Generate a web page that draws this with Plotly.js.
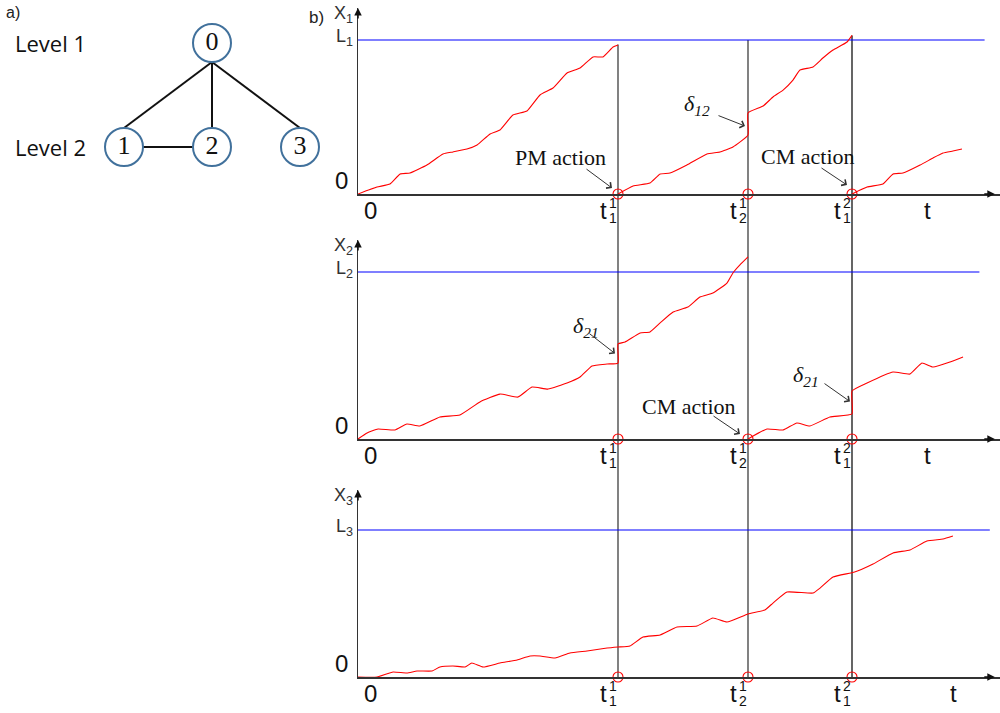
<!DOCTYPE html>
<html>
<head>
<meta charset="utf-8">
<script src="https://cdn.plot.ly/plotly-3.0.1.min.js"></script>
<style>
  html, body { margin: 0; padding: 0; background: #fff; }
  #chart { width: 1000px; height: 713px; }
</style>
</head>
<body>
<div id="chart"></div>
<script>
// ---- data ----

// a) two-level structure
var nodeLabels = ['0', '1', '2', '3']
var nodeLevel = [1, 2, 2, 2]
var nodeColumn = [2, 1, 2, 3]
var edges = [[0, 1], [0, 2], [0, 3], [1, 2]]
var levelNames = ['Level 1', 'Level 2']

// b) event times on the t axis: t_1^1, t_2^1, t_1^2
var eventTimes = [10, 15, 19]
var eventSub = ['1', '2', '1']
var eventSup = ['1', '1', '2']
var limitLevel = 1                  // L1, L2, L3 (each panel scaled to its own L)
var limitEnd = [24.1, 23.9, 24.3]   // where the blue limit lines stop
var eventLineTop = [0.97, 1.0, 1.03] // top of the black event lines, in X1 units
var tLabelAt = [21.9, 21.9, 22.9]

// X1: resets at t_1^1 (PM action) and t_1^2 (CM action), jump delta12 at t_2^1
var x1Time = [0, 0.73, 1.23, 1.62, 2.0, 2.65, 3.27, 3.65, 4.19, 4.58, 5.08, 5.46, 5.96, 6.5, 7.0, 7.5, 8.04, 8.54, 9.04, 9.42, 9.81, 10,
    null,
    10, 10.58, 11.23, 11.62, 12.0, 12.65, 13.42, 13.92, 14.42, 15, 15, 15.58, 15.96, 16.35, 16.73, 17.0, 17.5, 17.88, 18.27, 18.81, 19,
    null,
    19, 19.58, 20.19, 20.58, 20.96, 21.62, 22.12, 22.5, 22.88, 23.23]
var x1Value = [0, 0.045, 0.065, 0.13, 0.136, 0.188, 0.26, 0.273, 0.292, 0.318, 0.39, 0.416, 0.513, 0.539, 0.643, 0.688, 0.786, 0.818, 0.89, 0.89, 0.955, 0.968,
    null,
    0, 0.052, 0.071, 0.13, 0.136, 0.188, 0.26, 0.273, 0.305, 0.383, 0.526, 0.571, 0.63, 0.675, 0.74, 0.805, 0.825, 0.883, 0.935, 0.987, 1.03,
    null,
    0, 0.045, 0.065, 0.13, 0.136, 0.188, 0.234, 0.266, 0.279, 0.292]

// X2: jump delta21 at t_1^1, reset at t_2^1 (CM action), jump delta21 at t_1^2
var x2Time = [0, 0.35, 0.77, 1.42, 1.88, 2.38, 3.15, 3.92, 4.69, 5.46, 6.15, 6.69, 7.31, 8.04, 8.54, 9.0, 9.58, 10, 10, 10.27, 10.85, 11.23, 11.62, 12.12, 12.69, 13.15, 13.65, 14.19, 14.42, 14.69, 15,
    null,
    15, 15.73, 16.35, 16.88, 17.38, 18.15, 19, 19, 19.58, 20.58, 21.23, 21.69, 22.12, 22.77, 23.27]
var x2Value = [0, 0.036, 0.06, 0.054, 0.09, 0.078, 0.132, 0.144, 0.222, 0.269, 0.251, 0.311, 0.299, 0.335, 0.371, 0.437, 0.449, 0.455, 0.569, 0.581, 0.635, 0.641, 0.695, 0.76, 0.79, 0.85, 0.874, 0.934, 0.994, 1.042, 1.09,
    null,
    0, 0.06, 0.054, 0.096, 0.078, 0.132, 0.15, 0.287, 0.335, 0.401, 0.389, 0.455, 0.431, 0.461, 0.491]

// X3: no action
var x3Time = [0, 0.73, 1.35, 1.88, 2.27, 2.85, 3.15, 3.65, 4.12, 4.38, 4.81, 5.46, 6.12, 6.62, 7.0, 7.58, 8.15, 8.81, 9.58, 10, 10.46, 10.96, 11.62, 12.27, 13.04, 13.65, 14.19, 15, 15.65, 15.96, 16.5, 17.5, 17.77, 18.27, 19.1, 19.81, 20.58, 21.23, 21.88, 22.5, 22.88]
var x3Value = [0, 0, 0.034, 0.027, 0.041, 0.041, 0.068, 0.075, 0.068, 0.095, 0.068, 0.095, 0.116, 0.143, 0.143, 0.129, 0.163, 0.177, 0.197, 0.204, 0.211, 0.272, 0.286, 0.34, 0.347, 0.401, 0.374, 0.429, 0.456, 0.503, 0.578, 0.571, 0.605, 0.68, 0.714, 0.769, 0.844, 0.864, 0.925, 0.939, 0.959]


// ---- layout geometry (pixels of the 1000x713 picture) ----
var W = 1000, H = 713
var axisLeftPx = 358
var pxPerT = 26
var panelBasePx = [194, 439, 677]
var panelTopPx = [8, 240, 490]
var panelLimitPx = [40, 272, 530]

var sans = 'Liberation Sans, Arial, sans-serif'
var serif = 'Liberation Serif, Times New Roman, serif'
var axisColor = '#333'

function paperY(py) { return 1 - py / H }

var xRange = [0, (W - axisLeftPx) / pxPerT]
var series = [[x1Time, x1Value], [x2Time, x2Value], [x3Time, x3Value]]

var data = []
var layout = {
    width: W, height: H,
    margin: {l: 0, r: 0, t: 0, b: 0},
    paper_bgcolor: '#fff',
    plot_bgcolor: 'rgba(0,0,0,0)',
    showlegend: false,
    hovermode: false,
    annotations: [],
    shapes: []
}
var yDomains = [], yRanges = []

function jumpMid(times, values, t) {
    // middle of a vertical jump at time t
    for (let i = 1; i < times.length; i++) {
        if (times[i] === t && times[i - 1] === t) return (values[i] + values[i - 1]) / 2
    }
    return 0
}

for (let i = 0; i < 3; i++) {
    var s = i == 0 ? '' : String(i + 1)
    var xa = 'x' + s, ya = 'y' + s
    var yDomain = [paperY(panelBasePx[i]), paperY(panelTopPx[i])]
    var yRange = [0, limitLevel * (panelBasePx[i] - panelTopPx[i]) / (panelBasePx[i] - panelLimitPx[i])]
    yDomains.push(yDomain)
    yRanges.push(yRange)

    layout['xaxis' + s] = {
        domain: [axisLeftPx / W, 1], range: xRange, anchor: ya,
        showgrid: false, zeroline: false, showticklabels: false, ticks: '',
        showline: true, linecolor: axisColor, linewidth: 1.5, fixedrange: true
    }
    if (i > 0) layout['xaxis' + s].matches = 'x'
    layout['yaxis' + s] = {
        domain: yDomain, range: yRange, anchor: xa,
        showgrid: false, zeroline: false, showticklabels: false, ticks: '',
        showline: true, linecolor: axisColor, linewidth: 1.5, fixedrange: true
    }

    // limit line L_i
    data.push({
        x: [0, limitEnd[i]], y: [limitLevel, limitLevel], xaxis: xa, yaxis: ya,
        mode: 'lines', line: {color: '#0000ff', width: 1.2}
    })
    // state X_i(t)
    data.push({
        x: series[i][0], y: series[i][1], xaxis: xa, yaxis: ya,
        mode: 'lines', connectgaps: false,
        line: {color: '#ff0000', width: 1.1, shape: 'spline', smoothing: 0.4}
    })
    // event points on the t axis
    data.push({
        x: eventTimes, y: eventTimes.map(() => 0), xaxis: xa, yaxis: ya,
        mode: 'markers', cliponaxis: false,
        marker: {symbol: 'circle-open', size: 10, color: '#ff0000', line: {width: 1.1}}
    })

    // axis arrow heads
    layout.annotations.push({
        x: 0, y: yRange[1], xref: xa, yref: ya, text: '', showarrow: true,
        ax: 0, ay: 12, arrowhead: 2, arrowsize: 1, arrowwidth: 1.5, arrowcolor: '#111'
    })
    layout.annotations.push({
        x: xRange[1] - 0.2, y: 0, xref: xa, yref: ya, text: '', showarrow: true,
        ax: -12, ay: 0, arrowhead: 2, arrowsize: 1, arrowwidth: 1.5, arrowcolor: '#111'
    })

    // axis labels
    var n = String(i + 1)
    layout.annotations.push({
        x: 0, y: yRange[1], xref: xa, yref: ya, text: 'X<sub>' + n + '</sub>',
        showarrow: false, xanchor: 'right', yanchor: 'top', xshift: -3, yshift: 7,
        font: {family: sans, size: 18, color: axisColor}
    })
    layout.annotations.push({
        x: 0, y: limitLevel, xref: xa, yref: ya, text: 'L<sub>' + n + '</sub>',
        showarrow: false, xanchor: 'right', yanchor: 'middle', xshift: -3, yshift: 3,
        font: {family: sans, size: 18, color: axisColor}
    })
    layout.annotations.push({
        x: 0, y: 0, xref: xa, yref: ya, text: '0',
        showarrow: false, xanchor: 'right', yanchor: 'bottom', xshift: -8, yshift: -2,
        font: {family: sans, size: 24, color: '#111'}
    })
    layout.annotations.push({
        x: 0, y: 0, xref: xa, yref: ya, text: '0',
        showarrow: false, xanchor: 'center', yanchor: 'top', xshift: 12, yshift: -1,
        font: {family: sans, size: 24, color: '#111'}
    })
    layout.annotations.push({
        x: tLabelAt[i], y: 0, xref: xa, yref: ya, text: 't',
        showarrow: false, xanchor: 'center', yanchor: 'top', yshift: -1,
        font: {family: sans, size: 24, color: '#111'}
    })
    for (let k = 0; k < eventTimes.length; k++) {
        layout.annotations.push({
            x: eventTimes[k], y: 0, xref: xa, yref: ya, text: 't',
            showarrow: false, xanchor: 'right', yanchor: 'top', xshift: -9, yshift: -1,
            font: {family: sans, size: 24, color: '#111'}
        })
        layout.annotations.push({
            x: eventTimes[k], y: 0, xref: xa, yref: ya, text: eventSup[k],
            showarrow: false, xanchor: 'left', yanchor: 'top', xshift: -11, yshift: 1,
            font: {family: sans, size: 14, color: '#111'}
        })
        layout.annotations.push({
            x: eventTimes[k], y: 0, xref: xa, yref: ya, text: eventSub[k],
            showarrow: false, xanchor: 'left', yanchor: 'top', xshift: -11, yshift: -14,
            font: {family: sans, size: 14, color: '#111'}
        })
    }
}

// black event lines through all three panels
var bottomPaper = yDomains[2][0]
for (let k = 0; k < eventTimes.length; k++) {
    var topPaper = yDomains[0][0] + (eventLineTop[k] - yRanges[0][0]) / (yRanges[0][1] - yRanges[0][0]) * (yDomains[0][1] - yDomains[0][0])
    layout.shapes.push({
        type: 'line', xref: 'x', yref: 'paper', layer: 'below',
        x0: eventTimes[k], x1: eventTimes[k], y0: bottomPaper, y1: topPaper,
        line: {color: k == 2 ? '#555' : '#1a1a1a', width: k == 2 ? 1.8 : 1.1}
    })
}

// callouts: text and arrow are placed relative to the point they point at
function callout(panel, text, t, v, textDx, textDy, tipDx, tipDy, tailDx, tailDy) {
    var s = panel == 1 ? '' : String(panel)
    layout.annotations.push({
        x: t, y: v, xref: 'x' + s, yref: 'y' + s, text: text, showarrow: false,
        xanchor: 'center', yanchor: 'middle', xshift: textDx, yshift: textDy,
        font: {family: serif, size: 22, color: '#111'}
    })
    layout.annotations.push({
        x: t, y: v, xref: 'x' + s, yref: 'y' + s, text: '', showarrow: true,
        xshift: tipDx, yshift: tipDy, ax: tailDx, ay: tailDy,
        arrowhead: 4, arrowsize: 1.4, arrowwidth: 1, arrowcolor: '#333'
    })
}
var d12 = '<i>δ<sub>12</sub></i>'
var d21 = '<i>δ<sub>21</sub></i>'
callout(1, 'PM action', eventTimes[0], 0, -58, 37, -6, 6, -27, -20)
callout(1, 'CM action', eventTimes[2], 0, -44, 38, -5, 9, -27, -18)
callout(1, d12, eventTimes[1], jumpMid(x1Time, x1Value, eventTimes[1]), -51, 19, -3, -2, -28, -11)
callout(2, d21, eventTimes[0], jumpMid(x2Time, x2Value, eventTimes[0]), -32, 27, -3, 0, -27, -21)
callout(2, 'CM action', eventTimes[1], 0, -59, 33, -8, 5, -28, -19)
callout(2, d21, eventTimes[2], jumpMid(x2Time, x2Value, eventTimes[2]), -46, 27, -2, 1, -27, -19)

// ---- a) structure graph ----
var colPx = 88, levelPx = 104, nodeR = 19
var col1Px = 124, level1Px = 43
layout.xaxis4 = {
    domain: [0, 0.34], anchor: 'y4', visible: false, fixedrange: true,
    range: [1 - col1Px / colPx, 1 + (340 - col1Px) / colPx]
}
layout.yaxis4 = {
    domain: [paperY(200), 1], anchor: 'x4', visible: false, fixedrange: true,
    range: [1 + (200 - level1Px) / levelPx, 1 - level1Px / levelPx]
}
var rx = nodeR / colPx, ry = nodeR / levelPx
var ex = [], ey = []
edges.forEach(function (e) {
    var a = e[0], b = e[1]
    if (nodeLevel[a] == nodeLevel[b]) {
        ex.push(nodeColumn[a] + rx, nodeColumn[b] - rx, null)
        ey.push(nodeLevel[a], nodeLevel[b], null)
    } else {
        ex.push(nodeColumn[a], nodeColumn[b], null)
        ey.push(nodeLevel[a] + ry, nodeLevel[b] - ry, null)
    }
})
data.push({
    x: ex, y: ey, xaxis: 'x4', yaxis: 'y4', mode: 'lines',
    line: {color: '#111', width: 2}
})
data.push({
    x: nodeColumn, y: nodeLevel, text: nodeLabels, xaxis: 'x4', yaxis: 'y4',
    mode: 'markers+text', textposition: 'middle center', cliponaxis: false,
    marker: {size: 2 * nodeR, color: '#fff', line: {color: '#41719c', width: 2}},
    textfont: {family: serif, size: 26, color: '#111'}
})
levelNames.forEach(function (name, i) {
    layout.annotations.push({
        x: 0.05, xref: 'paper', y: i + 1, yref: 'y4', text: name, showarrow: false,
        xanchor: 'center', yanchor: 'middle',
        font: {family: 'Open Sans, sans-serif', size: 22, color: '#111'}
    })
})

layout.annotations.push({
    x: 0.013, y: paperY(12), xref: 'paper', yref: 'paper', text: 'a)', showarrow: false,
    xanchor: 'center', yanchor: 'middle', font: {family: sans, size: 16, color: '#222'}
})
layout.annotations.push({
    x: 0.316, y: paperY(17), xref: 'paper', yref: 'paper', text: 'b)', showarrow: false,
    xanchor: 'center', yanchor: 'middle', font: {family: sans, size: 17, color: '#222'}
})

Plotly.newPlot('chart', data, layout, {staticPlot: true, displayModeBar: false})
</script>
</body>
</html>
